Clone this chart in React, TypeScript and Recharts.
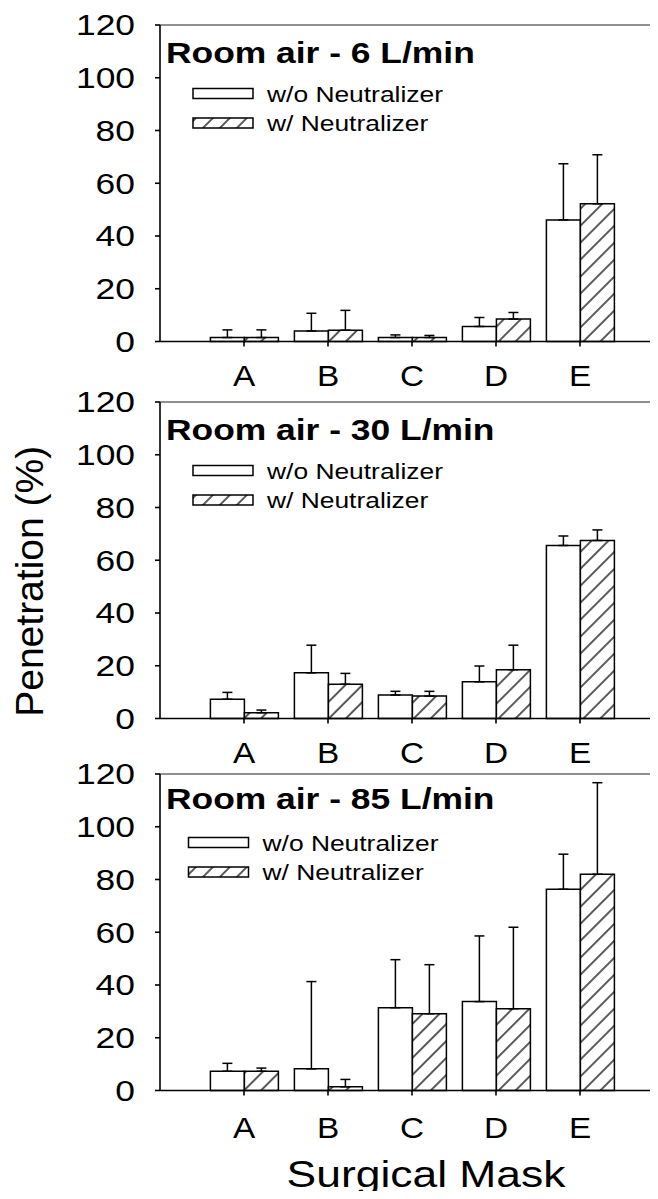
import React from "react";
import {
  Bar,
  BarChart,
  Customized,
  ErrorBar,
  ReferenceLine,
  XAxis,
  YAxis,
} from "recharts";

const FONT = "'Liberation Sans', Arial, sans-serif";
const STRETCH = 1.2;

const MASKS = ["A", "B", "C", "D", "E"];
const Y_TICKS = [0, 20, 40, 60, 80, 100, 120];
const SERIES_NAMES = ["w/o Neutralizer", "w/ Neutralizer"];

// Room air - 6 L/min
const ROOM_6_WO = [1.5, 4.0, 1.5, 5.7, 46.1];
const ROOM_6_WO_ERR = [2.9, 6.7, 1.0, 3.4, 21.3];
const ROOM_6_W = [1.5, 4.3, 1.5, 8.5, 52.2];
const ROOM_6_W_ERR = [2.9, 7.5, 0.8, 2.5, 18.6];

// Room air - 30 L/min
const ROOM_30_WO = [7.3, 17.3, 8.9, 13.9, 65.6];
const ROOM_30_WO_ERR = [2.6, 10.5, 1.4, 6.0, 3.6];
const ROOM_30_W = [2.2, 13.0, 8.5, 18.5, 67.5];
const ROOM_30_W_ERR = [1.0, 4.1, 1.8, 9.3, 4.0];

// Room air - 85 L/min
const ROOM_85_WO = [7.3, 8.2, 31.4, 33.7, 76.3];
const ROOM_85_WO_ERR = [3.0, 33.1, 18.2, 24.9, 13.3];
const ROOM_85_W = [7.3, 1.4, 29.1, 31.0, 82.0];
const ROOM_85_W_ERR = [1.2, 2.8, 18.6, 30.9, 34.7];

function rows(wo: number[], woErr: number[], w: number[], wErr: number[]) {
  return MASKS.map((mask, i) => ({
    mask,
    wo: wo[i],
    woErr: [0, woErr[i]],
    w: w[i],
    wErr: [0, wErr[i]],
  }));
}

const PANELS = [
  {
    title: "Room air - 6 L/min",
    data: rows(ROOM_6_WO, ROOM_6_WO_ERR, ROOM_6_W, ROOM_6_W_ERR),
    top: 0,
    height: 396.5,
    titleY: 63,
    legendDx: 0,
    tickMargin: 18,
  },
  {
    title: "Room air - 30 L/min",
    data: rows(ROOM_30_WO, ROOM_30_WO_ERR, ROOM_30_W, ROOM_30_W_ERR),
    top: 376.7,
    height: 396.5,
    titleY: 62.5,
    legendDx: 0,
    tickMargin: 18,
  },
  {
    title: "Room air - 85 L/min",
    data: rows(ROOM_85_WO, ROOM_85_WO_ERR, ROOM_85_W, ROOM_85_W_ERR),
    top: 749,
    height: 450,
    titleY: 60,
    legendDx: -4.5,
    tickMargin: 21,
  },
];

function YTick({ x, y, payload }: any) {
  return (
    <text
      transform={`translate(${x},${y}) scale(${STRETCH},1)`}
      textAnchor="end"
      dy="0.355em"
      fontSize={29.5}
      fontFamily={FONT}
      fill="#000"
    >
      {payload.value}
    </text>
  );
}

function XTick({ x, y, payload }: any) {
  return (
    <text
      transform={`translate(${x},${y + 21}) scale(1.15,1)`}
      textAnchor="middle"
      fontSize={29}
      fontFamily={FONT}
      fill="#000"
    >
      {payload.value}
    </text>
  );
}

function PanelText({
  title,
  titleY,
  legendDx,
  hatchId,
  showYLabel,
  showXLabel,
}: any) {
  return (
    <g fontFamily={FONT} fill="#000">
      <text
        transform={`translate(166,${titleY}) scale(${STRETCH},1)`}
        fontSize={29.5}
        fontWeight={700}
      >
        {title}
      </text>
      <rect
        x={193 + legendDx}
        y={88.5}
        width={60}
        height={10}
        fill="#fff"
        stroke="#000"
        strokeWidth={1.5}
      />
      <rect
        x={193 + legendDx}
        y={118}
        width={60}
        height={10}
        fill={`url(#${hatchId})`}
        stroke="#000"
        strokeWidth={1.5}
      />
      <text
        transform={`translate(${267 + legendDx},101.5) scale(${STRETCH},1)`}
        fontSize={22}
      >
        {SERIES_NAMES[0]}
      </text>
      <text
        transform={`translate(${267 + legendDx},130.5) scale(${STRETCH},1)`}
        fontSize={22}
      >
        {SERIES_NAMES[1]}
      </text>
      {showYLabel && (
        <text
          transform="translate(43,204.3) rotate(-90)"
          textAnchor="middle"
          fontSize={39}
        >
          Penetration (%)
        </text>
      )}
      {showXLabel && (
        <text
          transform={`translate(426,438) scale(${STRETCH},1)`}
          textAnchor="middle"
          fontSize={37}
        >
          Surgical Mask
        </text>
      )}
    </g>
  );
}

export default function App() {
  return (
    <div
      style={{
        position: "relative",
        width: 658,
        height: 1199,
        margin: -8,
        overflow: "hidden",
        background: "#fff",
      }}
    >
      {PANELS.map((p, idx) => {
        const hatchId = `hatch-${idx}`;
        return (
          <div
            key={p.title}
            style={{ position: "absolute", left: 0, top: p.top }}
          >
            <BarChart
              width={664}
              height={p.height}
              data={p.data}
              margin={{
                top: 25,
                right: 0,
                left: 0,
                bottom: p.height - 25 - 316.5 - 55,
              }}
              barCategoryGap="10%"
              barGap={0}
              style={{ overflow: "visible" }}
            >
              <defs>
                <pattern
                  id={hatchId}
                  patternUnits="userSpaceOnUse"
                  width={12}
                  height={12}
                  patternTransform="rotate(45)"
                >
                  <rect width={12} height={12} fill="#fff" />
                  <line
                    x1={6}
                    y1={0}
                    x2={6}
                    y2={12}
                    stroke="#000"
                    strokeWidth={1.3}
                  />
                </pattern>
              </defs>
              <XAxis
                dataKey="mask"
                height={55}
                interval={0}
                padding={{ left: 42, right: 42 }}
                stroke="#000"
                strokeWidth={1.6}
                tickSize={5}
                tickMargin={p.tickMargin}
                tick={<XTick />}
              />
              <YAxis
                width={160}
                domain={[0, 120]}
                ticks={Y_TICKS}
                stroke="#000"
                strokeWidth={1.6}
                tickSize={5}
                tickMargin={20}
                tick={<YTick />}
              />
              <ReferenceLine y={120} stroke="#222" strokeWidth={1.2} />
              <Bar
                dataKey="wo"
                fill="#fff"
                stroke="#000"
                strokeWidth={1.5}
                isAnimationActive={false}
              >
                <ErrorBar
                  dataKey="woErr"
                  direction="y"
                  width={5}
                  stroke="#000"
                  strokeWidth={1.5}
                  isAnimationActive={false}
                />
              </Bar>
              <Bar
                dataKey="w"
                fill={`url(#${hatchId})`}
                stroke="#000"
                strokeWidth={1.5}
                isAnimationActive={false}
              >
                <ErrorBar
                  dataKey="wErr"
                  direction="y"
                  width={5}
                  stroke="#000"
                  strokeWidth={1.5}
                  isAnimationActive={false}
                />
              </Bar>
              <Customized
                component={
                  <PanelText
                    title={p.title}
                    titleY={p.titleY}
                    legendDx={p.legendDx}
                    hatchId={hatchId}
                    showYLabel={idx === 1}
                    showXLabel={idx === 2}
                  />
                }
              />
            </BarChart>
          </div>
        );
      })}
    </div>
  );
}
